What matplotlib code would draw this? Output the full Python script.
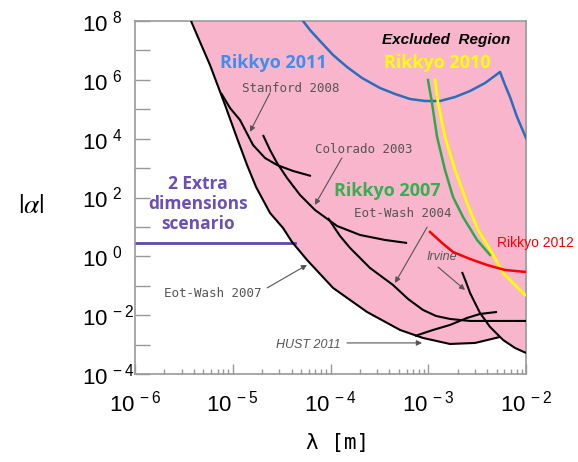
import numpy as np
import matplotlib
matplotlib.use("Agg")
import matplotlib.pyplot as plt
from matplotlib.ticker import FixedLocator, FixedFormatter, NullFormatter

# all curves as log10(lambda [m]) / log10(|alpha|)
ew2007_x = [-5.427, -5.335, -5.233, -5.079, -4.957, -4.854, -4.762, -4.619, -4.486,
            -4.394, -4.240, -3.974, -3.627, -3.289, -3.054, -2.778, -2.522, -2.266]
ew2007_y = [8.000, 7.286, 6.504, 5.145, 4.023, 3.105, 2.358, 1.474, 0.964,
            0.488, -0.124, -1.075, -1.891, -2.503, -2.775, -2.979, -2.945, -2.741]

hust_x = [-3.136, -2.951, -2.778, -2.604, -2.471, -2.297]
hust_y = [-2.707, -2.503, -2.333, -2.095, -1.959, -1.891]

ew2004_x = [-4.026, -3.903, -3.800, -3.596, -3.361, -3.207, -3.054, -2.921, -2.778, -2.573, -2.266, -2.000]
ew2004_y = [1.304, 0.692, 0.284, -0.396, -0.973, -1.449, -1.823, -2.027, -2.129, -2.197, -2.197, -2.197]

colorado_x = [-4.691, -4.619, -4.547, -4.445, -4.312, -4.159, -3.933, -3.698, -3.442, -3.217]
colorado_y = [4.125, 3.615, 3.173, 2.664, 2.086, 1.576, 1.032, 0.726, 0.556, 0.454]

stanford_x = [-5.120, -5.028, -4.926, -4.793, -4.670, -4.547, -4.384, -4.200]
stanford_y = [5.553, 5.043, 4.635, 3.785, 3.343, 3.105, 2.902, 2.732]

irvine_x = [-2.655, -2.614, -2.573, -2.522, -2.471, -2.368, -2.235, -2.113, -2.000]
irvine_y = [-0.532, -0.871, -1.245, -1.585, -1.925, -2.401, -2.843, -3.115, -3.285]

rik2011_x = [-4.281, -4.210, -4.107, -3.974, -3.831, -3.678, -3.494, -3.340, -3.187, -3.033,
             -2.880, -2.726, -2.573, -2.419, -2.266, -2.215, -2.164, -2.092, -2.000]
rik2011_y = [8.000, 7.694, 7.320, 6.844, 6.436, 6.063, 5.723, 5.519, 5.349, 5.281,
             5.281, 5.417, 5.621, 5.893, 6.267, 5.825, 5.417, 4.737, 4.023]

rik2007_x = [-3.003, -2.962, -2.910, -2.829, -2.747, -2.645, -2.501, -2.368]
rik2007_y = [5.995, 5.213, 4.057, 2.935, 2.018, 1.338, 0.556, 0.046]

rik2010_x = [-2.931, -2.900, -2.829, -2.726, -2.604, -2.491, -2.348, -2.235, -2.010]
rik2010_y = [5.995, 5.213, 4.057, 2.935, 1.814, 0.896, 0.114, -0.566, -1.313]

rik2012_x = [-2.982, -2.859, -2.747, -2.573, -2.399, -2.215, -2.000]
rik2012_y = [0.828, 0.454, 0.148, -0.090, -0.294, -0.464, -0.532]

extra_x = [-6.0, -4.36]
extra_y = [0.46, 0.46]

x_decades = [-6, -5, -4, -3, -2]
y_decades = list(range(-4, 9))

pink = "#F8B5CB"
gray = "#555555"

fig = plt.figure(figsize=(5.78, 4.62), dpi=100)
ax = fig.add_axes([0.2336, 0.1905, 0.6765, 0.764])
ax.set_xscale("log")
ax.set_yscale("log")
ax.set_xlim(1e-6, 1e-2)
ax.set_ylim(1e-4, 1e8)


def p(v):
    return 10.0 ** np.asarray(v)


# excluded region: above the lowest envelope
low_x = ew2007_x + [v for v in irvine_x if v > ew2007_x[-1]]
low_y = ew2007_y + [irvine_y[i] for i, v in enumerate(irvine_x) if v > ew2007_x[-1]]
ax.fill_between(p(low_x), p(low_y), 1e8, color=pink, lw=0, zorder=1)

for cx, cy in [(ew2007_x, ew2007_y), (hust_x, hust_y), (ew2004_x, ew2004_y),
               (colorado_x, colorado_y), (stanford_x, stanford_y), (irvine_x, irvine_y)]:
    ax.plot(p(cx), p(cy), color="black", lw=1.5, zorder=3, solid_capstyle="butt")

ax.plot(p(rik2011_x), p(rik2011_y), color="#2A6EBB", lw=1.8, zorder=3)
ax.plot(p(rik2007_x), p(rik2007_y), color="#2EA84A", lw=1.8, zorder=3)
ax.plot(p(rik2010_x), p(rik2010_y), color="#FFFF00", lw=2.0, zorder=3)
ax.plot(p(rik2012_x), p(rik2012_y), color="#FF0000", lw=1.8, zorder=3)
ax.plot(p(extra_x), p(extra_y), color="#5A4AB0", lw=2.0, zorder=2)

# axes styling
for s in ax.spines.values():
    s.set_color("#999999")
    s.set_linewidth(1.2)

ax.xaxis.set_major_locator(FixedLocator([10.0 ** d for d in x_decades]))
ax.xaxis.set_minor_locator(FixedLocator([m * 10.0 ** d for d in x_decades[:-1] for m in range(2, 10)]))
ax.xaxis.set_major_formatter(FixedFormatter([r"$\mathregular{10^{\,-%d}}$" % -d for d in x_decades]))
ax.xaxis.set_minor_formatter(NullFormatter())

ax.yaxis.set_major_locator(FixedLocator([10.0 ** d for d in y_decades]))
ax.yaxis.set_minor_locator(FixedLocator([]))
ylabels = []
for d in y_decades:
    if d % 2:
        ylabels.append("")
    elif d < 0:
        ylabels.append(r"$\mathregular{10^{\,-%d}}$" % -d)
    else:
        ylabels.append(r"$\mathregular{10^{\ %d}}$" % d)
ax.yaxis.set_major_formatter(FixedFormatter(ylabels))

ax.tick_params(axis="y", which="major", direction="in", length=10.8, width=1,
               color="#999999", labelsize=16, pad=38, left=True, right=False)
ax.tick_params(axis="x", which="major", direction="in", length=7, width=1,
               color="#999999", labelsize=16, pad=12, bottom=True, top=False)
ax.tick_params(axis="x", which="minor", direction="in", length=3.6, width=1,
               color="#999999", bottom=True, top=False)
for lab in ax.get_xticklabels() + ax.get_yticklabels():
    lab.set_fontfamily("Liberation Sans")
for lab in ax.get_yticklabels():
    lab.set_horizontalalignment("left")

ax.text(-0.266, 0.479, r"$|\alpha|$", transform=ax.transAxes, fontsize=20,
        math_fontfamily="stix", ha="center", va="center")
ax.text(0.518, -0.195, "λ [m]", transform=ax.transAxes, fontsize=15,
        family="DejaVu Sans Mono", ha="center", va="center")

# labels
ax.text(0.797, 0.946, "Excluded  Region", transform=ax.transAxes, fontsize=11,
        family="Liberation Sans", weight="bold", style="italic", ha="center", va="center", zorder=5)
ax.text(0.355, 0.881, "Rikkyo 2011", transform=ax.transAxes, fontsize=13, color="#3D8EF0",
        family="Open Sans", weight="bold", ha="center", va="center", zorder=5)
ax.text(0.774, 0.881, "Rikkyo 2010", transform=ax.transAxes, fontsize=13, color="#FFFF00",
        family="Open Sans", weight="bold", ha="center", va="center", zorder=5)
ax.text(0.646, 0.518, "Rikkyo 2007", transform=ax.transAxes, fontsize=13, color="#33B050",
        family="Open Sans", weight="bold", ha="center", va="center", zorder=5)
ax.text(0.926, 0.371, "Rikkyo 2012", transform=ax.transAxes, fontsize=10, color="#FF0000",
        family="Liberation Sans", ha="left", va="center", zorder=5)
ax.text(0.161, 0.482, "2 Extra\ndimensions\nscenario", transform=ax.transAxes, fontsize=12.5,
        color="#6B4FB5", family="Open Sans", weight="bold", ha="center", va="center",
        linespacing=1.12, zorder=5)

mono = dict(transform=ax.transAxes, fontsize=9, color=gray, family="DejaVu Sans Mono",
            ha="center", va="center", zorder=5)
ax.text(0.399, 0.810, "Stanford 2008", **mono)
ax.text(0.586, 0.635, "Colorado 2003", **mono)
ax.text(0.684, 0.456, "Eot-Wash 2004", **mono)
ax.text(0.198, 0.229, "Eot-Wash 2007", **mono)
ital = dict(transform=ax.transAxes, fontsize=9, color=gray, family="Liberation Sans",
            style="italic", ha="center", va="center", zorder=5)
ax.text(0.784, 0.331, "Irvine", **ital)
ax.text(0.444, 0.082, "HUST 2011", **ital)

arrow = dict(arrowstyle="-|>", color=gray, lw=0.8, mutation_scale=8, shrinkA=0, shrinkB=0)
for tip, start in [((0.294, 0.686), (0.345, 0.796)),
                   ((0.460, 0.479), (0.529, 0.612)),
                   ((0.665, 0.258), (0.747, 0.416)),
                   ((0.844, 0.238), (0.775, 0.303)),
                   ((0.734, 0.088), (0.542, 0.088)),
                   ((0.440, 0.309), (0.338, 0.244))]:
    ax.annotate("", xy=tip, xytext=start, xycoords="axes fraction",
                textcoords="axes fraction", arrowprops=arrow, zorder=5)

fig.savefig("out.png", dpi=100)
